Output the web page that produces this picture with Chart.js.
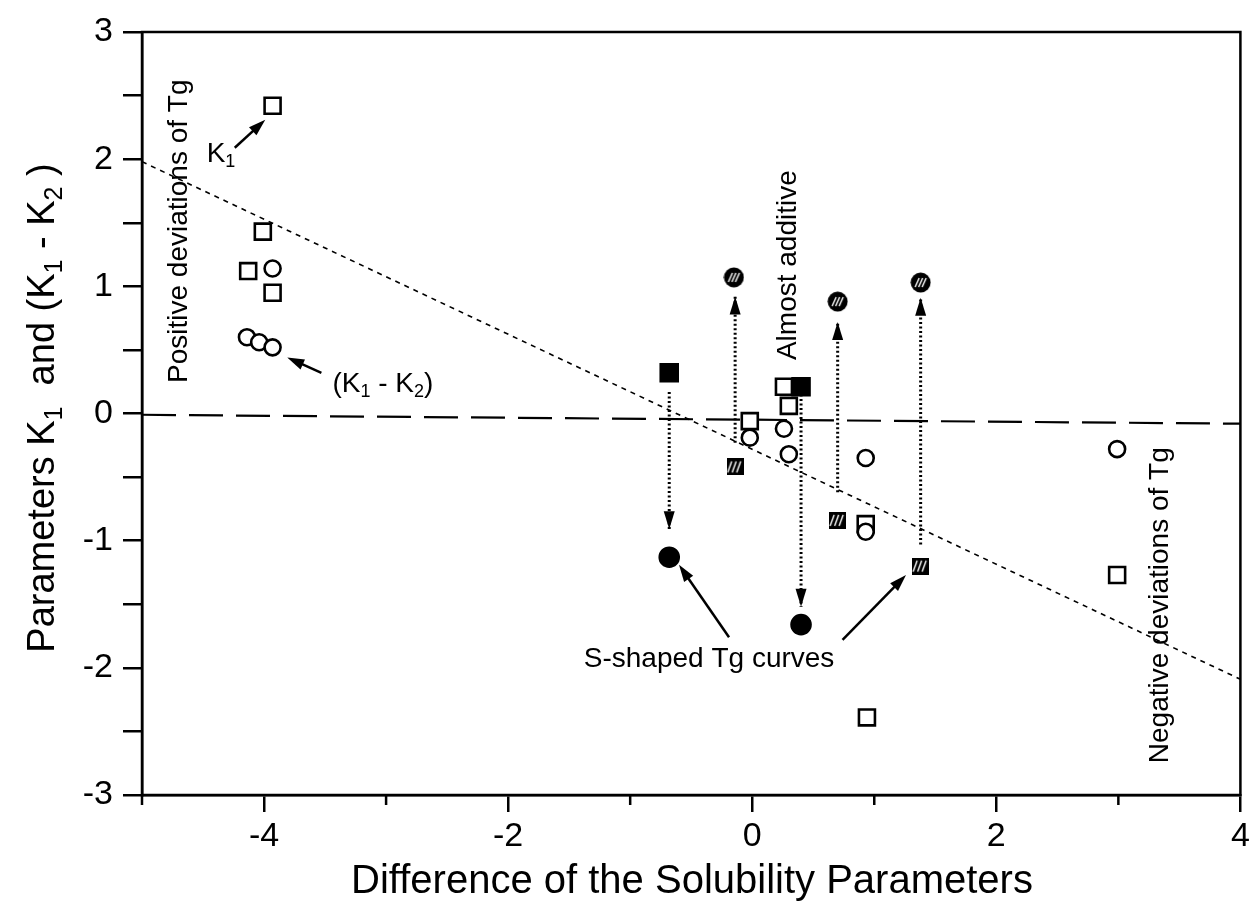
<!DOCTYPE html>
<html>
<head>
<meta charset="utf-8">
<script src="https://cdn.jsdelivr.net/npm/chart.js@4.4.0/dist/chart.umd.min.js"></script>
<style>
  html, body { margin: 0; padding: 0; background: #fff; }
  canvas { display: block; }
</style>
</head>
<body>
<canvas id="tgChart" width="1255" height="915"></canvas>
<script>
const FONT = '"Liberation Sans", Arial, sans-serif';

// K1 (open squares)
const k1X = [-3.93, -4.01, -4.13, -3.93, 0.26, 0.30, -0.02, 0.93, 2.99, 0.94];
const k1Y = [2.42, 1.43, 1.12, 0.95, 0.21, 0.06, -0.06, -0.87, -1.27, -2.39];
// K1 - K2 (open circles)
const dkX = [-3.93, -4.14, -4.04, -3.93, -0.02, 0.26, 0.30, 0.93, 0.93, 2.99];
const dkY = [1.14, 0.60, 0.56, 0.52, -0.19, -0.12, -0.32, -0.35, -0.93, -0.28];
// S-shaped systems, filled markers
const sSqX = [-0.68, 0.40];
const sSqY = [0.32, 0.21];
const sCiX = [-0.68, 0.40];
const sCiY = [-1.13, -1.66];
// hatched markers
const hSqX = [-0.14, 0.70, 1.38];
const hSqY = [-0.42, -0.84, -1.20];
const hCiX = [-0.15, 0.70, 1.38];
const hCiY = [1.07, 0.88, 1.03];

// reference lines
const zeroX = [-5, 4];
const zeroY = [-0.01, -0.08];
const trendX = [-5, 4];
const trendY = [1.98, -2.09];

// dotted vertical arrows
const arrowX = [-0.68, -0.14, 0.40, 0.70, 1.38];
const arrowFrom = [0.17, -0.23, 0.15, -0.62, -1.03];
const arrowTo = [-0.91, 0.92, -1.52, 0.72, 0.91];

// pointer arrows (tail -> head)
const ptrX0 = [-4.24, -3.53, -0.19, 0.74];
const ptrY0 = [2.09, 0.32, -1.76, -1.78];
const ptrX1 = [-3.99, -3.81, -0.60, 1.26];
const ptrY1 = [2.31, 0.44, -1.19, -1.27];

// ticks
const xTicks = [-4, -2, 0, 2, 4];
const xMinor = [-5, -3, -1, 1, 3];
const yTicks = [-3, -2.5, -2, -1.5, -1, -0.5, 0, 0.5, 1, 1.5, 2, 2.5, 3];

const pts = (xs, ys) => xs.map((x, i) => ({ x: x, y: ys[i] }));

// 🔹 marker images
function hatchCircle() {
  const c = document.createElement('canvas');
  c.width = c.height = 21;
  const g = c.getContext('2d');
  g.fillStyle = '#000';
  g.beginPath(); g.arc(10.5, 10.5, 10, 0, Math.PI * 2); g.fill();
  g.strokeStyle = '#fff'; g.lineWidth = 1.4;
  [-3.5, 0, 3.5].forEach(o => {
    g.beginPath(); g.moveTo(10.5 + o - 2, 15); g.lineTo(10.5 + o + 2, 6); g.stroke();
  });
  return c;
}
function hatchSquare() {
  const c = document.createElement('canvas');
  c.width = c.height = 17;
  const g = c.getContext('2d');
  g.fillStyle = '#000'; g.fillRect(0, 0, 17, 17);
  g.strokeStyle = '#fff'; g.lineWidth = 1.4;
  [-3, 1.5, 6].forEach(o => {
    g.beginPath(); g.moveTo(4 + o, 14); g.lineTo(8 + o, 3); g.stroke();
  });
  return c;
}

function richWidth(ctx, runs, size) {
  let w = 0;
  runs.forEach(r => {
    ctx.font = (r.sub ? Math.round(size * 0.65) : size) + 'px ' + FONT;
    w += ctx.measureText(r.t).width;
  });
  return w;
}
function drawRich(ctx, runs, size, x, y, rot) {
  ctx.save();
  ctx.translate(x, y);
  if (rot) ctx.rotate(rot);
  ctx.fillStyle = '#000';
  ctx.textBaseline = 'alphabetic';
  ctx.textAlign = 'left';
  let cx = 0;
  runs.forEach(r => {
    const s = r.sub ? Math.round(size * 0.65) : size;
    ctx.font = s + 'px ' + FONT;
    ctx.fillText(r.t, cx, r.sub ? size * 0.2 : 0);
    cx += ctx.measureText(r.t).width;
  });
  ctx.restore();
}

function arrowHead(ctx, x0, y0, x1, y1, len, half) {
  const a = Math.atan2(y1 - y0, x1 - x0);
  ctx.beginPath();
  ctx.moveTo(x1, y1);
  ctx.lineTo(x1 - len * Math.cos(a) + half * Math.sin(a), y1 - len * Math.sin(a) - half * Math.cos(a));
  ctx.lineTo(x1 - len * Math.cos(a) - half * Math.sin(a), y1 - len * Math.sin(a) + half * Math.cos(a));
  ctx.closePath();
  ctx.fill();
}

const decorPlugin = {
  id: 'decor',
  afterDatasetsDraw(chart) {
    const ctx = chart.ctx;
    const xs = chart.scales.x, ys = chart.scales.y;
    const area = chart.chartArea;
    ctx.save();
    ctx.fillStyle = '#000';
    ctx.strokeStyle = '#000';

    // arrowheads of dotted arrows
    arrowX.forEach((x, i) => {
      const px = xs.getPixelForValue(x);
      arrowHead(ctx, px, ys.getPixelForValue(arrowFrom[i]), px, ys.getPixelForValue(arrowTo[i]), 18, 5.5);
    });

    // pointer arrows
    ctx.lineWidth = 2.5;
    ptrX0.forEach((x, i) => {
      const a = xs.getPixelForValue(x), b = ys.getPixelForValue(ptrY0[i]);
      const c = xs.getPixelForValue(ptrX1[i]), d = ys.getPixelForValue(ptrY1[i]);
      const ang = Math.atan2(d - b, c - a);
      ctx.beginPath();
      ctx.moveTo(a, b);
      ctx.lineTo(c - 12 * Math.cos(ang), d - 12 * Math.sin(ang));
      ctx.stroke();
      arrowHead(ctx, a, b, c, d, 17, 5.5);
    });

    // annotation texts
    const at = (x, y) => [xs.getPixelForValue(x), ys.getPixelForValue(y)];
    let p = at(-4.47, 1.98);
    drawRich(ctx, [{ t: 'K' }, { t: '1', sub: true }], 28, p[0], p[1]);
    p = at(-3.44, 0.17);
    drawRich(ctx, [{ t: '(K' }, { t: '1', sub: true }, { t: ' - K' }, { t: '2', sub: true }, { t: ')' }], 28, p[0], p[1]);
    p = at(-1.38, -1.99);
    drawRich(ctx, [{ t: 'S-shaped Tg curves' }], 28, p[0], p[1]);
    p = at(0.36, 0.42);
    drawRich(ctx, [{ t: 'Almost additive' }], 28, p[0], p[1], -Math.PI / 2);
    p = at(-4.63, 0.24);
    drawRich(ctx, [{ t: 'Positive deviations of Tg' }], 28, p[0], p[1], -Math.PI / 2);
    p = at(3.41, -2.75);
    drawRich(ctx, [{ t: 'Negative deviations of Tg' }], 28, p[0], p[1], -Math.PI / 2);

    // frame
    ctx.lineWidth = 2.5;
    ctx.strokeRect(area.left, area.top, area.right - area.left, area.bottom - area.top);

    // minor x ticks
    xMinor.forEach(v => {
      const px = xs.getPixelForValue(v);
      ctx.beginPath(); ctx.moveTo(px, area.bottom); ctx.lineTo(px, area.bottom + 10); ctx.stroke();
    });

    // axis titles
    ctx.font = '40px ' + FONT;
    ctx.textAlign = 'center';
    ctx.textBaseline = 'alphabetic';
    ctx.fillText('Difference of the Solubility Parameters', 692, 893);

    const yRuns = [{ t: 'Parameters K' }, { t: '1', sub: true }, { t: '  and (K' }, { t: '1', sub: true },
                   { t: ' - K' }, { t: '2', sub: true }, { t: ' )' }];
    const w = richWidth(ctx, yRuns, 38);
    drawRich(ctx, yRuns, 38, 54, 408 + w / 2, -Math.PI / 2);
    ctx.restore();
  }
};

const markerBase = { showLine: false, pointBorderColor: '#000', pointBorderWidth: 2.6, pointBackgroundColor: '#fff' };
const lineBase = { showLine: true, pointRadius: 0, borderColor: '#000', fill: false, tension: 0 };

const datasets = [
  Object.assign({ label: 'K1 - K2', data: pts(dkX, dkY), pointStyle: 'circle', pointRadius: 8, order: 1 }, markerBase),
  Object.assign({ label: 'K1', data: pts(k1X, k1Y), pointStyle: 'rect', pointRadius: 11.3, order: 2 }, markerBase),
  Object.assign({ label: 'S filled sq', data: pts(sSqX, sSqY), pointStyle: 'rect', pointRadius: 12, order: 3 }, markerBase, { pointBackgroundColor: '#000' }),
  Object.assign({ label: 'S filled ci', data: pts(sCiX, sCiY), pointStyle: 'circle', pointRadius: 9.5, order: 3 }, markerBase, { pointBackgroundColor: '#000' }),
  Object.assign({ label: 'hatched sq', data: pts(hSqX, hSqY), pointStyle: hatchSquare(), pointRadius: 9, order: 3 }, markerBase),
  Object.assign({ label: 'hatched ci', data: pts(hCiX, hCiY), pointStyle: hatchCircle(), pointRadius: 10, order: 3 }, markerBase),
  Object.assign({ label: 'zero', data: pts(zeroX, zeroY), borderWidth: 2.2, borderDash: [34, 13], order: 10 }, lineBase),
  Object.assign({ label: 'trend', data: pts(trendX, trendY), borderWidth: 1.6, borderDash: [5, 5], order: 10 }, lineBase)
];
arrowX.forEach((x, i) => {
  datasets.push(Object.assign({ label: 'arrow' + i, data: [{ x: x, y: arrowFrom[i] }, { x: x, y: arrowTo[i] }],
    borderWidth: 3, borderDash: [2, 2.5], borderCapStyle: 'butt', order: 9 }, lineBase));
});

new Chart(document.getElementById('tgChart'), {
  type: 'scatter',
  data: { datasets: datasets },
  options: {
    responsive: false,
    devicePixelRatio: 1,
    animation: false,
    events: [],
    layout: { padding: { left: 0, right: 13, top: 32, bottom: 0 } },
    plugins: { legend: { display: false }, tooltip: { enabled: false } },
    scales: {
      x: {
        type: 'linear', min: -5, max: 4,
        afterBuildTicks: s => { s.ticks = xTicks.map(v => ({ value: v })); },
        afterFit: s => { s.height = 120; s.paddingLeft = s.paddingRight = s.paddingTop = s.paddingBottom = 0; },
        grid: { drawOnChartArea: false, color: '#000', lineWidth: 2.5, tickLength: 17 },
        border: { color: '#000', width: 2.5 },
        ticks: { color: '#000', font: { family: FONT, size: 34 }, padding: 4, maxRotation: 0, autoSkip: false }
      },
      y: {
        type: 'linear', min: -3, max: 3,
        afterBuildTicks: s => { s.ticks = yTicks.map(v => ({ value: v })); },
        afterFit: s => { s.width = 142; s.paddingLeft = s.paddingRight = s.paddingTop = s.paddingBottom = 0; },
        grid: { drawOnChartArea: false, color: '#000', lineWidth: 2.5, tickLength: 19 },
        border: { color: '#000', width: 2.5 },
        ticks: { color: '#000', font: { family: FONT, size: 34 }, padding: 10, autoSkip: false,
          callback: v => Number.isInteger(v) ? String(v) : '' }
      }
    }
  },
  plugins: [decorPlugin]
});
</script>
</body>
</html>
